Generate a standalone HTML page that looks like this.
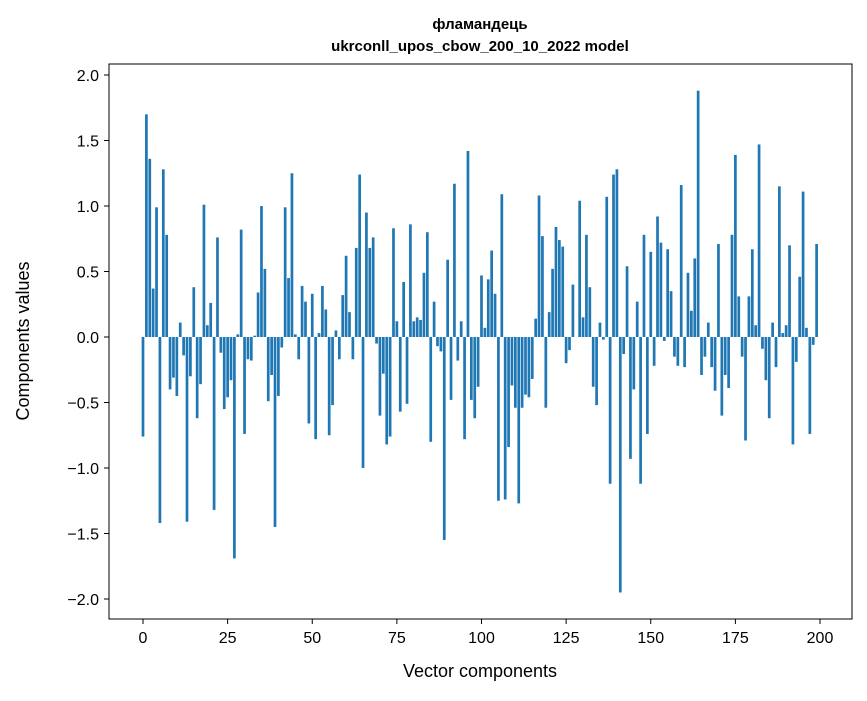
<!DOCTYPE html>
<html><head><meta charset="utf-8"><style>
body{margin:0;background:#fff;font-family:"Liberation Sans","DejaVu Sans",sans-serif;}
svg text{font-family:"Liberation Sans","DejaVu Sans",sans-serif;}
</style></head><body>
<svg id="chart" width="867" height="696" xmlns="http://www.w3.org/2000/svg">
<text x="480" y="29" text-anchor="middle" font-size="15" font-weight="bold">фламандець</text>
<text x="480" y="51" text-anchor="middle" font-size="15" font-weight="bold">ukrconll_upos_cbow_200_10_2022 model</text>
<g id="bars"></g>
<g id="axes"></g>
<rect x="109" y="64" width="743" height="555" fill="none" stroke="#000" stroke-width="1"/>
<text x="480" y="677" text-anchor="middle" font-size="18">Vector components</text>
<text transform="translate(29,341) rotate(-90)" text-anchor="middle" font-size="18">Components values</text>
</svg>
<script>
const values = [-0.76,1.70,1.36,0.37,0.99,-1.42,1.28,0.78,-0.40,-0.31,-0.45,0.11,-0.14,-1.41,-0.30,0.38,-0.62,-0.36,1.01,0.09,
0.26,-1.32,0.76,-0.12,-0.55,-0.46,-0.33,-1.69,0.02,0.82,-0.74,-0.17,-0.18,0.01,0.34,1.00,0.52,-0.49,-0.29,-1.45,
-0.45,-0.08,0.99,0.45,1.25,0.02,-0.17,0.39,0.27,-0.66,0.33,-0.78,0.03,0.39,0.21,-0.75,-0.52,0.05,-0.17,0.32,
0.62,0.19,-0.17,0.68,1.24,-1.00,0.95,0.68,0.76,-0.05,-0.60,-0.28,-0.82,-0.76,0.83,0.12,-0.57,0.42,-0.51,0.86,
0.12,0.15,0.13,0.49,0.80,-0.80,0.27,-0.07,-0.11,-1.55,0.59,-0.48,1.17,-0.18,0.12,-0.78,1.42,-0.48,-0.62,-0.38,
0.47,0.07,0.44,0.66,0.33,-1.25,1.09,-1.24,-0.84,-0.37,-0.54,-1.27,-0.54,-0.44,-0.46,-0.32,0.14,1.08,0.77,-0.54,
0.19,0.52,0.84,0.74,0.69,-0.20,-0.10,0.40,0.00,1.04,0.15,0.78,0.38,-0.38,-0.52,0.11,-0.02,1.07,-1.12,1.24,
1.28,-1.95,-0.13,0.54,-0.93,-0.40,0.27,-1.12,0.78,-0.74,0.65,-0.22,0.92,0.72,-0.03,0.67,0.35,-0.15,-0.22,1.16,
-0.23,0.49,0.20,0.60,1.88,-0.29,-0.15,0.11,-0.23,-0.41,0.71,-0.60,-0.29,-0.39,0.78,1.39,0.31,-0.15,-0.79,0.31,
0.67,0.09,1.47,-0.09,-0.33,-0.62,0.11,-0.23,1.15,0.03,0.09,0.70,-0.82,-0.19,0.46,1.11,0.07,-0.74,-0.06,0.71];
const xTicks = [0,25,50,75,100,125,150,175,200];
const yTicks = [-2.0,-1.5,-1.0,-0.5,0.0,0.5,1.0,1.5,2.0];
const NS="http://www.w3.org/2000/svg";
const xScale = v => 143 + v*(820-143)/200;
const yScale = v => 337 - v*131;
const bars=document.getElementById('bars');
values.forEach((v,i)=>{
  const r=document.createElementNS(NS,'rect');
  const w=0.8*(820-143)/200;
  r.setAttribute('x',xScale(i)-w/2);
  r.setAttribute('width',w);
  r.setAttribute('y',Math.min(yScale(v),yScale(0)));
  r.setAttribute('height',Math.abs(yScale(v)-yScale(0)));
  r.setAttribute('fill','#1f77b4');
  
  
  bars.appendChild(r);
});
const axes=document.getElementById('axes');
xTicks.forEach(t=>{
  const x=xScale(t);
  const l=document.createElementNS(NS,'line');
  l.setAttribute('x1',x);l.setAttribute('x2',x);l.setAttribute('y1',619);l.setAttribute('y2',624);
  l.setAttribute('stroke','#000');
  
  
  axes.appendChild(l);
  const tx=document.createElementNS(NS,'text');
  tx.setAttribute('x',x);tx.setAttribute('y',643);tx.setAttribute('text-anchor','middle');tx.setAttribute('font-size','16');
  tx.textContent=t;
  
  
  axes.appendChild(tx);
});
yTicks.forEach(t=>{
  const y=yScale(t);
  const l=document.createElementNS(NS,'line');
  l.setAttribute('x1',104);l.setAttribute('x2',109);l.setAttribute('y1',y);l.setAttribute('y2',y);
  l.setAttribute('stroke','#000');
  
  
  axes.appendChild(l);
  const tx=document.createElementNS(NS,'text');
  tx.setAttribute('x',99);tx.setAttribute('y',y+6);tx.setAttribute('text-anchor','end');tx.setAttribute('font-size','16');
  tx.textContent=(t<0?'\u2212':'')+Math.abs(t).toFixed(1);
  
  
  axes.appendChild(tx);
});
</script>
</body></html>
